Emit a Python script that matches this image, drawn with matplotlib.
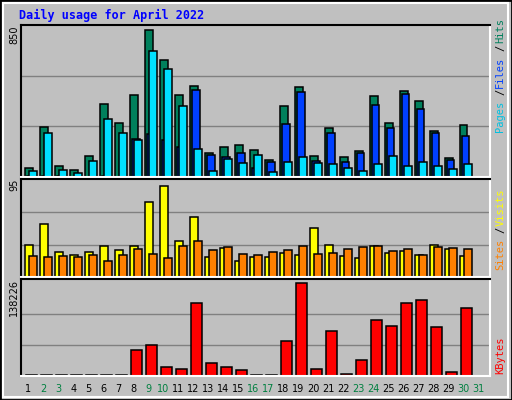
import matplotlib

matplotlib.use("Agg")
import matplotlib.pyplot as plt
from matplotlib.patches import Rectangle

days = list(range(1, 32))
weekend_days = [2, 3, 9, 10, 16, 17, 23, 24, 30, 31]

hits = [52, 282, 64, 41, 120, 411, 305, 461, 826, 658, 461, 512, 136, 170, 181,
        153, 97, 400, 506, 120, 276, 114, 148, 456, 305, 484, 428, 260, 108, 293]
files = [4, 4, 4, 2, 2, 4, 2, 215, 243, 209, 170, 489, 125, 114, 136,
         52, 86, 299, 478, 92, 248, 86, 136, 405, 276, 467, 383, 248, 97, 232]
pages = [35, 248, 41, 24, 92, 327, 248, 209, 708, 607, 400, 159, 35, 103, 80,
         125, 30, 86, 114, 80, 75, 52, 35, 75, 120, 64, 86, 64, 47, 75]
visits = [31.3, 51.7, 24.6, 21.6, 24.6, 30.4, 26.5, 30.4, 73, 89.5, 35.2, 58.5, 19.7, 28.4, 15.8,
          19.7, 19.7, 23.6, 21.6, 47.8, 31.3, 20.7, 18.7, 30.4, 23.6, 25.5, 21.6, 31.3, 27.5, 20.7]
sites = [20.7, 19.7, 20.7, 19.7, 21.6, 15.8, 21.6, 27.5, 22.6, 18.7, 30.4, 35.2, 26.5, 29.4, 22.6,
         21.6, 24.6, 26.5, 30.4, 22.6, 23.6, 27.5, 29.4, 30.4, 25.5, 27.5, 21.6, 29.4, 28.4, 27.5]
kbytes = [1500, 1500, 1500, 1500, 1500, 1500, 1500, 38800, 46400, 14100, 11100, 109500, 18700, 14100, 9600,
          1500, 1500, 52000, 138226, 11100, 67100, 3500, 23200, 83700, 74700, 109500, 114000, 73100, 6600, 101900]

max_hits = 850
max_visits = 95
max_kbytes = 138226

GREY = "#C0C0C0"
fig = plt.figure(figsize=(5.12, 4.0), dpi=100, facecolor=GREY)
fig.patches.append(Rectangle((0, 0), 1, 1, transform=fig.transFigure, fill=False,
                             edgecolor="black", linewidth=2))
fig.patches.append(Rectangle((0.006, 0.008), 0.986, 0.984, transform=fig.transFigure, fill=False,
                             edgecolor="white", linewidth=1.5))

x0, w = 0.0404, 0.9166


def make_axes(bottom, height, top_val, grid_vals):
    ax = fig.add_axes([x0, bottom, w, height], facecolor=GREY)
    ax.set_xlim(0, 31.3)
    ax.set_ylim(0, top_val)
    for g in grid_vals:
        ax.axhline(g, color="#808080", linewidth=1, zorder=0)
    ax.set_xticks([])
    ax.set_yticks([])
    for side in ["top", "left"]:
        ax.spines[side].set_color("black")
    for side in ["bottom", "right"]:
        ax.spines[side].set_color("white")
    for s in ax.spines.values():
        s.set_linewidth(1.5)
    return ax


def bars(ax, values, offset, width, color):
    lefts = [d - 1 + offset for d in days[:len(values)]]
    ax.bar(lefts, values, width=width, align="edge", color=color,
           edgecolor="black", linewidth=1.1, zorder=2)


ax1 = make_axes(0.5575, 0.38, max_hits * 1.003, [max_hits / 3, max_hits * 2 / 3])
bars(ax1, hits, 0.31, 0.49, "#00805C")
bars(ax1, files, 0.44, 0.49, "#0040FF")
bars(ax1, pages, 0.58, 0.49, "#00E0FF")

ax2 = make_axes(0.3075, 0.245, max_visits * 1.01, [max_visits / 3, max_visits * 2 / 3])
bars(ax2, visits, 0.31, 0.53, "#FFFF00")
bars(ax2, sites, 0.58, 0.49, "#FF8000")

ax3 = make_axes(0.06, 0.2425, max_kbytes * 1.047, [max_kbytes / 3, max_kbytes * 2 / 3])
bars(ax3, kbytes, 0.38, 0.69, "#FF0000")

mono = "DejaVu Sans Mono"
fig.text(0.037, 0.962, "Daily usage for April 2022", color="#0000FF", fontsize=8.5,
         fontweight="bold", family=mono, va="center")

fig.text(0.028, 0.935, str(max_hits), rotation=90, fontsize=7, ha="center", va="top")
fig.text(0.028, 0.553, str(max_visits), rotation=90, fontsize=7, ha="center", va="top")
fig.text(0.028, 0.303, str(max_kbytes), rotation=90, fontsize=7, ha="center", va="top")


# right side legends, drawn bottom to top
def side_label(parts, y_bottom):
    y = y_bottom
    for text, color in parts:
        fig.text(0.977, y, text, rotation=90, fontsize=7.5, family=mono,
                 color=color, ha="center", va="bottom")
        y += len(text) * 0.0185


side_label([("Pages", "#00C0E0"), ("/", "black"), ("Files", "#0040FF"),
            ("/", "black"), ("Hits", "#00805C")], 0.67)
side_label([("Sites", "#FF8000"), ("/", "black"), ("Visits", "#FFFF00")], 0.325)
side_label([("KBytes", "#FF0000")], 0.065)

for d in days:
    color = "#008040" if d in weekend_days else "black"
    fig.text(x0 + w * (d - 0.5) / 31.3, 0.028, str(d), fontsize=7, color=color,
             ha="center", va="center")

fig.savefig("out.png", dpi=100, facecolor=GREY)
